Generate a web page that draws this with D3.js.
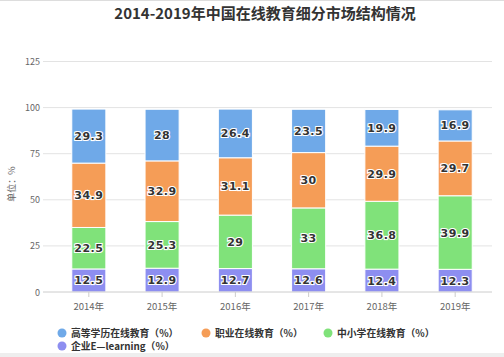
<!DOCTYPE html>
<html><head><meta charset="utf-8">
<script src="https://cdn.jsdelivr.net/npm/d3@7"></script>
<style>body{margin:0;background:#fff;}svg{display:block;font-family:"Noto Sans CJK SC","Noto Sans",sans-serif;}</style>
</head><body><svg id="c" width="504" height="357"></svg>
<script>
const years = ["2014年","2015年","2016年","2017年","2018年","2019年"];
const seriesNames = ["企业E—learning（%）","中小学在线教育（%）","职业在线教育（%）","高等学历在线教育（%）"];
const enterprise = [12.5,12.9,12.7,12.6,12.4,12.3];
const k12 = [22.5,25.3,29,33,36.8,39.9];
const vocational = [34.9,32.9,31.1,30,29.9,29.7];
const higher = [29.3,28,26.4,23.5,19.9,16.9];
const yTicks = [0,25,50,75,100,125];
const colors = ["#8d8ef0","#80e27a","#f59d57","#6fa9e8"];
const legendOrder = [3,2,1,0];

const svg = d3.select("#c");
const x = d3.scaleBand().domain(years).range([52,492]).paddingInner(0.535).paddingOuter(0.27);
const y = d3.scaleLinear().domain([0,125]).range([292,61.5]);

svg.append("text").attr("x",265).attr("y",19).attr("text-anchor","middle")
  .attr("font-size",15).attr("font-weight","bold").attr("fill","#333").text("2014-2019年中国在线教育细分市场结构情况");

// grid
svg.append("g").selectAll("line").data(yTicks.filter(d=>d>0)).join("line")
  .attr("x1",43).attr("x2",492).attr("y1",d=>y(d)).attr("y2",d=>y(d))
  .attr("stroke","#e3e3e3").attr("stroke-width",1);
svg.append("g").selectAll("text").data(yTicks).join("text")
  .attr("x",40).attr("y",d=>y(d)+3.5).attr("text-anchor","end")
  .attr("font-size",9).attr("fill","#666").text(d=>d);
svg.append("text").attr("transform","translate(15,184) rotate(-90)").attr("text-anchor","middle")
  .attr("font-size",9).attr("fill","#666").text("单位：%");

const data = years.map((yr,i)=>({year:yr, s0:enterprise[i], s1:k12[i], s2:vocational[i], s3:higher[i]}));
const stack = d3.stack().keys(["s0","s1","s2","s3"])(data);

const g = svg.append("g");
stack.forEach((layer,li)=>{
  g.selectAll(null).data(layer).join("rect")
    .attr("x",d=>x(d.data.year)).attr("width",x.bandwidth())
    .attr("y",d=>y(d[1])).attr("height",d=>y(d[0])-y(d[1]))
    .attr("fill",colors[li]).attr("stroke","#fff").attr("stroke-width",1);
});
stack.forEach((layer,li)=>{
  g.selectAll(null).data(layer).join("text")
    .attr("x",d=>x(d.data.year)+x.bandwidth()/2).attr("y",d=>(y(d[0])+y(d[1]))/2+4)
    .attr("text-anchor","middle").attr("font-size",11).attr("font-weight","bold")
    .attr("font-family","DejaVu Sans, sans-serif")
    .attr("fill","#333").attr("stroke","#fff").attr("stroke-width",2.2).attr("paint-order","stroke")
    .attr("letter-spacing",0.5)
    .text(d=>d[1]-d[0]>0?(+(d.data["s"+li])).toString():"");
});

// x axis
const xa = svg.append("g").attr("transform","translate(0,292)");
xa.append("line").attr("x1",43).attr("x2",492).attr("stroke","#ccc");
xa.selectAll("line.t").data(years).join("line").attr("class","t")
  .attr("x1",d=>x(d)+x.bandwidth()/2).attr("x2",d=>x(d)+x.bandwidth()/2).attr("y1",0).attr("y2",5).attr("stroke","#ccc");
xa.selectAll("text").data(years).join("text")
  .attr("x",d=>x(d)+x.bandwidth()/2).attr("y",18).attr("text-anchor","middle")
  .attr("font-size",9.5).attr("fill","#666").text(d=>d);

// legend
const legPos = [[62,334],[206,334],[328,334],[62,347]];
legendOrder.forEach((si,i)=>{
  const [lx,ly] = legPos[i];
  svg.append("circle").attr("cx",lx).attr("cy",ly-1).attr("r",4.5).attr("fill",colors[si]);
  svg.append("text").attr("x",lx+9).attr("y",ly+2.5).attr("font-size",9.8).attr("font-weight","bold")
    .attr("fill","#333").text(seriesNames[si]);
});
svg.append("rect").attr("x",0).attr("y",353).attr("width",504).attr("height",4).attr("fill","#eee");
svg.append("line").attr("x1",0).attr("x2",504).attr("y1",0.5).attr("y2",0.5).attr("stroke","#ddd");
</script></body></html>
